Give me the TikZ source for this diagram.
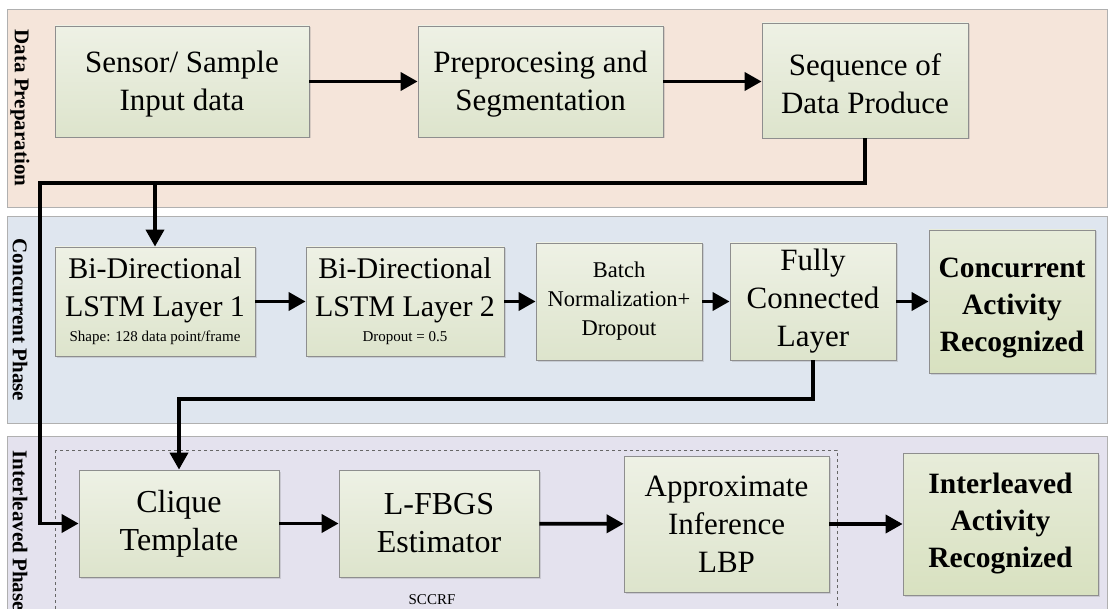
\documentclass[tikz,border=0pt]{standalone}
\usepackage{fontspec}
\setmainfont{Liberation Serif}
\usetikzlibrary{arrows.meta,shadows}

\definecolor{prepband}{HTML}{F5E5DA}
\definecolor{concband}{HTML}{DFE6EF}
\definecolor{interband}{HTML}{E4E2EE}
\definecolor{boxtop}{HTML}{EEF1E5}
\definecolor{boxbot}{HTML}{DDE4CC}
\definecolor{resbot}{HTML}{D8E1C0}
\definecolor{edgegray}{HTML}{8E8E8E}

\begin{document}
\begin{tikzpicture}[x=1pt,y=-1pt,
  band/.style={draw=edgegray!70, line width=0.8pt},
  stage/.style={draw=edgegray, line width=0.8pt, top color=boxtop, bottom color=boxbot,
    align=center, inner sep=0pt,
    drop shadow={shadow xshift=1.5pt, shadow yshift=-1.5pt, opacity=0.25}},
  result/.style={stage, top color=boxtop!70!resbot, bottom color=resbot,
    font=\bfseries\fontsize{29.5}{37}\selectfont},
  toprow/.style={font=\fontsize{31}{38}\selectfont},
  mid/.style={font=\fontsize{31}{38}\selectfont},
  lstm/.style={font=\fontsize{30}{38}\selectfont},
  note/.style={font=\fontsize{15}{17}\selectfont},
  phase/.style={rotate=-90, font=\bfseries\fontsize{21}{22}\selectfont},
  wire/.style={line width=3.8pt, line join=miter},
  conn/.style={wire, -{Triangle[length=17pt,width=18pt]}},
]
\useasboundingbox (0,0) rectangle (1113,609);

% phase bands
\fill[white] (0,0) rectangle (1113,609);
\draw[band, fill=prepband] (7,9) rectangle (1107,207);
\draw[band, fill=concband] (7,216) rectangle (1107,423);
\draw[band, fill=interband] (7,436) rectangle (1107,620);

\node[phase] (lprep) at (20,108) {Data Preparation};
\node[phase] (lconc) at (20,320) {Concurrent Phase};
\node[phase, anchor=west] (linter) at (20,447) {Interleaved Phase};

% SCCRF group
\draw[dashed, draw=black!60, line width=0.6pt] (55,450) rectangle (837,620);
\node[note] (sccrf) at (432,600) {SCCRF};

% data preparation row
\node[stage, toprow, minimum width=254pt, minimum height=111pt] (sensor) at (182,81.5)
  {\parbox[c][111pt][c]{254pt}{\centering\vspace*{6pt}Sensor/ Sample\\Input data}};
\node[stage, toprow, minimum width=245pt, minimum height=111pt] (prep) at (540.5,81.5)
  {\parbox[c][111pt][c]{245pt}{\centering\vspace*{6pt}Preprocesing and\\Segmentation}};
\node[stage, toprow, minimum width=206pt, minimum height=115pt] (seq) at (865,80.5)
  {\parbox[c][115pt][c]{206pt}{\centering\vspace*{6pt}Sequence of\\Data Produce}};

% concurrent row
\node[stage, lstm, minimum width=200pt, minimum height=109pt] (bil1) at (155,301.5)
  {Bi-Directional\\LSTM Layer 1\\[-13pt]{\fontsize{15}{17}\selectfont Shape: 128 data point/frame}};
\node[stage, lstm, minimum width=198pt, minimum height=109pt] (bil2) at (405,301.5)
  {Bi-Directional\\LSTM Layer 2\\[-13pt]{\fontsize{15}{17}\selectfont Dropout = 0.5}};
\node[stage, font=\fontsize{22.5}{29}\selectfont, minimum width=166pt, minimum height=117pt] (bn) at (619,301.5) {Batch\\Normalization+\\Dropout};
\node[stage, mid, minimum width=166pt, minimum height=117pt] (fc) at (813,301.5) {Fully\\Connected\\Layer};
\node[result, minimum width=166pt, minimum height=143pt] (conc) at (1012,301.5)
  {\parbox[c][143pt][c]{166pt}{\centering\vspace*{12pt}Concurrent\\Activity\\Recognized}};

% interleaved row
\node[stage, font=\fontsize{32}{38}\selectfont, minimum width=200pt, minimum height=107pt] (clique) at (179,523.5) {Clique\\Template};
\node[stage, font=\fontsize{32}{38}\selectfont, minimum width=200pt, minimum height=107pt] (lbfgs) at (439,523.5) {L-FBGS\\Estimator};
\node[stage, mid, minimum width=205pt, minimum height=136pt] (lbp) at (726.5,524) {Approximate\\Inference\\LBP};
\node[result, minimum width=195pt, minimum height=142pt] (inter) at (1000.5,524) {Interleaved\\Activity\\Recognized};

% routing points of the feedback wires
\coordinate (busA) at (40,183);
\coordinate (busB) at (0,399);

% straight flow
\draw[conn] (sensor) -- (prep);
\draw[conn] (prep) -- (seq.west |- prep);
\draw[conn] (bil1) -- (bil2);
\draw[conn] (bil2) -- (bn);
\draw[conn] (bn) -- (fc);
\draw[conn] (fc) -- (conc);
\draw[conn] (clique) -- (lbfgs);
\draw[conn] (lbfgs) -- (lbp);
\draw[conn] (lbp) -- (inter);

% routed wires
\draw[conn] (seq.south) |- (busA) -- (busA |- clique.west) -- (clique.west);
\draw[conn] (bil1.north |- busA) -- (bil1.north);
\draw[conn] (fc.south) |- (clique.north |- busB) -- (clique.north);
\end{tikzpicture}
\end{document}
